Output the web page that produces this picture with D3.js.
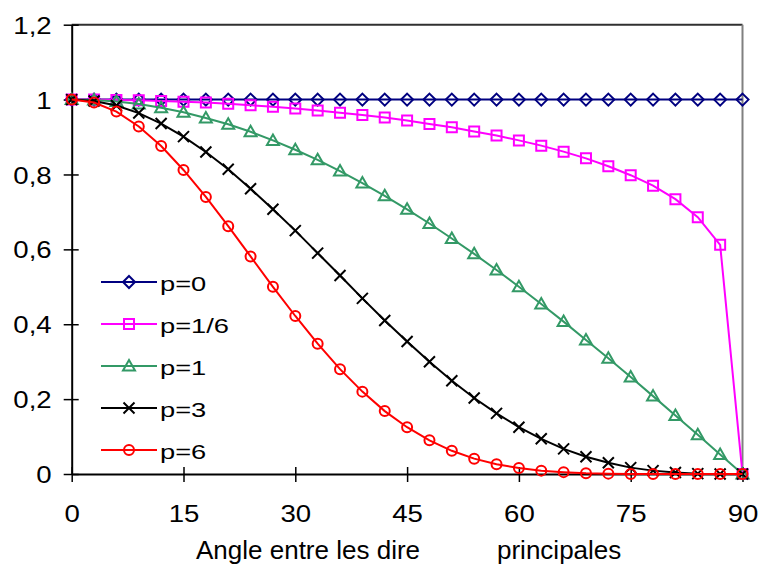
<!DOCTYPE html>
<html>
<head>
<meta charset="utf-8">
<script src="https://cdn.jsdelivr.net/npm/d3@7"></script>
<style>
  html, body { margin: 0; padding: 0; background: #fff; }
  svg { display: block; }
  text { font-family: "Liberation Sans", Arial, sans-serif; fill: #000; }
</style>
</head>
<body>
<svg id="chart" width="760" height="566"></svg>
<script>
// ---- data ----
const angles = [0,3,6,9,12,15,18,21,24,27,30,33,36,39,42,45,48,51,54,57,60,63,66,69,72,75,78,81,84,87,90];
const seriesNames = ["p=0","p=1/6","p=1","p=3","p=6"];
const p0  = [1,1,1,1,1,1,1,1,1,1,1,1,1,1,1,1,1,1,1,1,1,1,1,1,1,1,1,1,1,1,1];
const p16 = [1,1.000,0.999,0.998,0.996,0.994,0.992,0.989,0.985,0.981,0.976,0.971,0.965,0.959,0.952,0.944,0.935,0.926,0.915,0.904,0.891,0.877,0.861,0.843,0.822,0.798,0.770,0.734,0.686,0.612,0];
const p1  = [1,0.999,0.995,0.988,0.978,0.966,0.951,0.934,0.914,0.891,0.866,0.839,0.809,0.777,0.743,0.707,0.669,0.629,0.588,0.545,0.500,0.454,0.407,0.358,0.309,0.259,0.208,0.156,0.105,0.052,0];
const p3  = [1,0.996,0.984,0.964,0.936,0.901,0.860,0.814,0.762,0.707,0.650,0.590,0.530,0.469,0.410,0.354,0.300,0.249,0.203,0.162,0.125,0.094,0.067,0.046,0.030,0.017,0.009,0.004,0.001,0.000,0];
const p6  = [1,0.992,0.968,0.928,0.876,0.812,0.740,0.662,0.581,0.500,0.422,0.348,0.280,0.220,0.168,0.125,0.090,0.062,0.041,0.026,0.016,0.009,0.005,0.002,0.001,0,0,0,0,0,0];
const xTicks = [0,15,30,45,60,75,90];
const yTicks = [0,0.2,0.4,0.6,0.8,1,1.2];
const xTitleA = "Angle entre les dire";
const xTitleB = "principales";

// ---- styles ----
const colors  = ["#000080","#FF00FF","#339966","#000000","#FF0000"];
const markers = ["diamond","square","triangle","x","circle"];
const values  = [p0,p16,p1,p3,p6];

const svg = d3.select("#chart");
svg.append("rect").attr("width",760).attr("height",566).attr("fill","#fff");

const x = d3.scaleLinear().domain([0,90]).range([71.7,742.5]);
const y = d3.scaleLinear().domain([0,1.2]).range([474,24.7]);

const fr = d3.formatLocale({decimal:",", thousands:" ", grouping:[3], currency:["","€"]}).format("~g");

function markerPath(type){
  switch(type){
    case "diamond": return "M0,-6L6,0L0,6L-6,0Z";
    case "square": return "M-5,-5L5,-5L5,5L-5,5Z";
    case "triangle": return "M0,-6L6,4.5L-6,4.5Z";
    case "x": return "M-5.5,-5.5L5.5,5.5M5.5,-5.5L-5.5,5.5";
    case "circle": return "M5,0A5,5 0 1,1 -5,0A5,5 0 1,1 5,0Z";
  }
}

// plot area border (top + right)
svg.append("line").attr("x1",x(0)).attr("x2",x(90)).attr("y1",y(1.2)).attr("y2",y(1.2))
  .attr("stroke","#303030").attr("stroke-width",2);
svg.append("line").attr("x1",x(90)).attr("x2",x(90)).attr("y1",y(1.2)).attr("y2",y(0))
  .attr("stroke","#808080").attr("stroke-width",2);

const SX = 1.15;
const TF = "24px";

// y axis
const gy = svg.append("g").attr("transform",`translate(${x(0)},0)`)
  .call(d3.axisLeft(y).tickValues(yTicks).tickFormat(fr).tickSize(8).tickSizeOuter(0));
gy.select(".domain").attr("stroke","#000").attr("stroke-width",2);
gy.selectAll(".tick line").attr("x1",7).attr("stroke","#000").attr("stroke-width",1.5);
gy.selectAll(".tick text").attr("x",-20/SX).attr("dy","0.36em")
  .attr("transform",`scale(${SX},1)`).style("font-size",TF)
  .style("font-family","'Liberation Sans', Arial, sans-serif");

// x axis
const gx = svg.append("g").attr("transform",`translate(0,${y(0)})`)
  .call(d3.axisBottom(x).tickValues(xTicks).tickFormat(d=>String(d)).tickSize(8).tickSizeOuter(0));
gx.select(".domain").attr("stroke","#000").attr("stroke-width",2);
gx.selectAll(".tick line").attr("y1",-7).attr("stroke","#000").attr("stroke-width",1.5);
gx.selectAll(".tick text").attr("y",31).attr("dy","0.71em")
  .attr("transform",`scale(${SX},1)`).style("font-size",TF)
  .style("font-family","'Liberation Sans', Arial, sans-serif");

// x title
svg.append("text").attr("x",196).attr("y",559).style("font-size","26px").text(xTitleA);
svg.append("text").attr("x",497).attr("y",559).style("font-size","26px").text(xTitleB);

// series
const line = d3.line().x(d=>x(d[0])).y(d=>y(d[1]));
values.forEach((vals,i)=>{
  const pts = angles.map((a,j)=>[a,vals[j]]);
  const g = svg.append("g");
  g.append("path").attr("d",line(pts)).attr("fill","none")
    .attr("stroke",colors[i]).attr("stroke-width",2);
  g.selectAll("path.m").data(pts).join("path").attr("class","m")
    .attr("transform",d=>`translate(${x(d[0])},${y(d[1])})`)
    .attr("d",markerPath(markers[i])).attr("fill","none")
    .attr("stroke",colors[i]).attr("stroke-width",2);
});

// legend
const legY = [282,324,366,408,450];
seriesNames.forEach((name,i)=>{
  const g = svg.append("g").attr("transform",`translate(0,${legY[i]})`);
  g.append("line").attr("x1",101).attr("x2",157).attr("y1",0).attr("y2",0)
    .attr("stroke",colors[i]).attr("stroke-width",2);
  g.append("path").attr("transform","translate(129,0)").attr("d",markerPath(markers[i]))
    .attr("fill","none").attr("stroke",colors[i]).attr("stroke-width",2);
  g.append("text").attr("transform","translate(160,8.5) scale(1.3,1)")
    .style("font-size","21px").text(name);
});
</script>
</body>
</html>
